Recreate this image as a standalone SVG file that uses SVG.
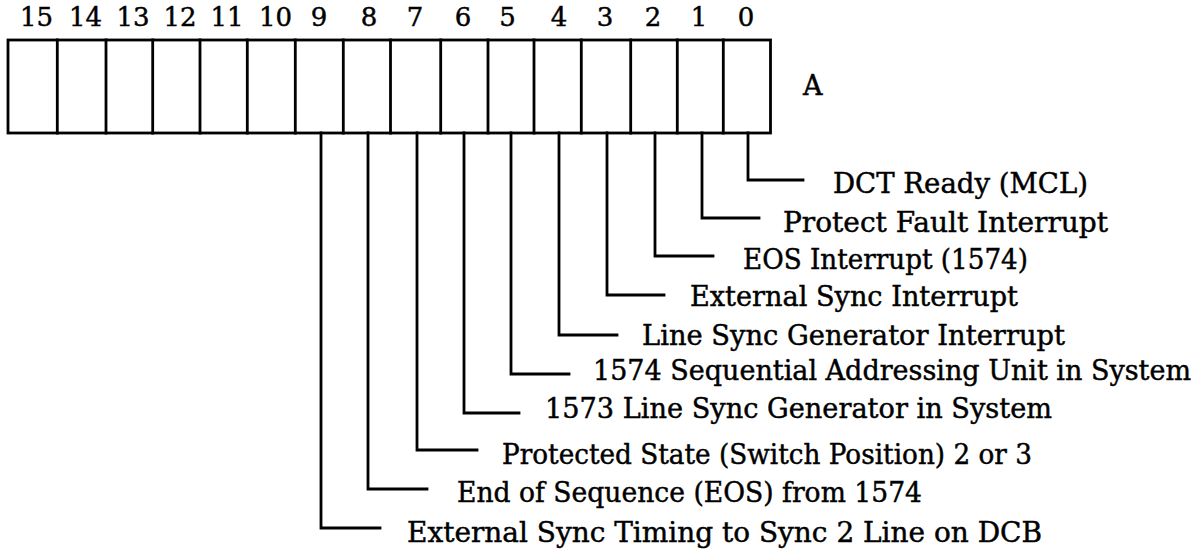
<svg xmlns="http://www.w3.org/2000/svg" width="1202" height="552" viewBox="0 0 1202 552">
<style>
.ln{fill:none;stroke:#000;stroke-width:2.8;stroke-linecap:square;stroke-linejoin:miter}
.t{font-family:"DejaVu Serif","Liberation Serif",serif;font-size:27px;fill:#000;stroke:#000;stroke-width:0.45}
.n{font-family:"DejaVu Serif","Liberation Serif",serif;font-size:26px;fill:#000;stroke:#000;stroke-width:0.45;text-anchor:middle}
</style>
<rect width="1202" height="552" fill="#fff"/>
<g id="bit-numbers">
<text class="n" x="36.5" y="26">15</text>
<text class="n" x="85.5" y="26">14</text>
<text class="n" x="133" y="26">13</text>
<text class="n" x="180" y="26">12</text>
<text class="n" x="227" y="26">11</text>
<text class="n" x="275.5" y="26">10</text>
<text class="n" x="319" y="26">9</text>
<text class="n" x="369" y="26">8</text>
<text class="n" x="415" y="26">7</text>
<text class="n" x="463" y="26">6</text>
<text class="n" x="507.5" y="26">5</text>
<text class="n" x="559" y="26">4</text>
<text class="n" x="605" y="26">3</text>
<text class="n" x="653" y="26">2</text>
<text class="n" x="699" y="26">1</text>
<text class="n" x="746" y="26">0</text>
</g>
<g id="register-A">
<rect class="ln" x="8" y="40" width="762.5" height="93"/>
<path class="ln" d="M57.3 40V133M106 40V133M152.7 40V133M200 40V133M247.3 40V133M295.3 40V133M343.3 40V133M390.5 40V133M440.7 40V133M488 40V133M534 40V133M581.3 40V133M630.7 40V133M677.3 40V133M723.3 40V133"/>
<text class="t" x="812.7" y="95" text-anchor="middle" font-size="24">A</text>
</g>
<g id="connectors">
<path class="ln" d="M748 133V180H803"/>
<path class="ln" d="M702 133V218H759"/>
<path class="ln" d="M655 133V256H713"/>
<path class="ln" d="M607 133V295H664"/>
<path class="ln" d="M559 133V335H617"/>
<path class="ln" d="M511 133V374H569"/>
<path class="ln" d="M464 133V413H519"/>
<path class="ln" d="M417 133V450H477"/>
<path class="ln" d="M368 133V489H427"/>
<path class="ln" d="M321 133V528H380"/>
</g>
<g id="bit0"><text class="t" x="833" y="193" textLength="255" lengthAdjust="spacingAndGlyphs">DCT Ready (MCL)</text></g>
<g id="bit1"><text class="t" x="783" y="232" textLength="325" lengthAdjust="spacingAndGlyphs">Protect Fault Interrupt</text></g>
<g id="bit2"><text class="t" x="743" y="269" textLength="285" lengthAdjust="spacingAndGlyphs">EOS Interrupt (1574)</text></g>
<g id="bit3"><text class="t" x="690" y="306" textLength="328" lengthAdjust="spacingAndGlyphs">External Sync Interrupt</text></g>
<g id="bit4"><text class="t" x="642" y="345" textLength="423" lengthAdjust="spacingAndGlyphs">Line Sync Generator Interrupt</text></g>
<g id="bit5"><text class="t" x="593" y="380" textLength="598" lengthAdjust="spacingAndGlyphs">1574 Sequential Addressing Unit in System</text></g>
<g id="bit6"><text class="t" x="545" y="418" textLength="507" lengthAdjust="spacingAndGlyphs">1573 Line Sync Generator in System</text></g>
<g id="bit7"><text class="t" x="502" y="464" textLength="530" lengthAdjust="spacingAndGlyphs">Protected State (Switch Position) 2 or 3</text></g>
<g id="bit8"><text class="t" x="457" y="502" textLength="465" lengthAdjust="spacingAndGlyphs">End of Sequence (EOS) from 1574</text></g>
<g id="bit9"><text class="t" x="407" y="542" textLength="635" lengthAdjust="spacingAndGlyphs">External Sync Timing to Sync 2 Line on DCB</text></g>
</svg>
